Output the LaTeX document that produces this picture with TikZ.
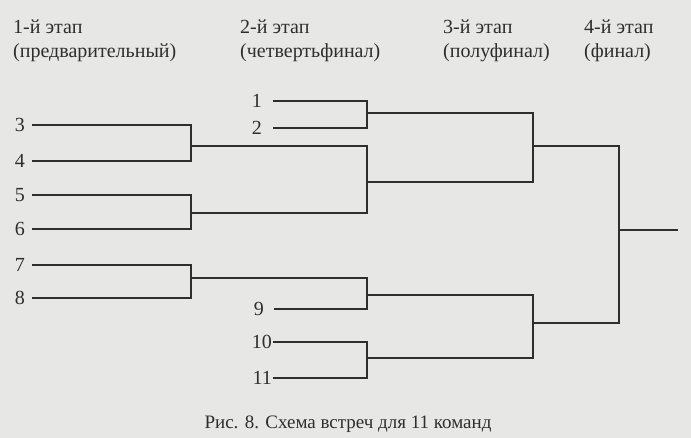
\documentclass[tikz,border=0pt]{standalone}
\usepackage{fontspec}
\setmainfont{Liberation Serif}
\definecolor{paper}{HTML}{E7E7E5}
\definecolor{ink}{HTML}{2E2E2E}
\tikzset{
  team/.style={anchor=east,inner xsep=7pt,inner ysep=0pt,font=\fontsize{20}{24}\selectfont,text=ink},
  stage/.style={anchor=base west,align=left,inner sep=0pt,font=\fontsize{20}{24}\selectfont,text=ink},
  link/.style={draw=ink,line width=1.1pt}
}
\begin{document}
\begin{tikzpicture}[x=1pt,y=-1pt]
    \fill[paper](0,0) rectangle (691,438);
    \useasboundingbox (0,0) rectangle (691,438);
    % stages
    \node[stage] (st1) at (13,58) {1-й этап\\(предварительный)};
    \node[stage] (st2) at (240,58) {2-й этап\\(четвертьфинал)};
    \node[stage] (st3) at (443,58) {3-й этап\\(полуфинал)};
    \node[stage] (st4) at (584,58) {4-й этап\\(финал)};
    % teams
    \node[team] (t3) at (32,125) {3};
    \node[team] (t4) at (32,161) {4};
    \node[team] (t5) at (32,195) {5};
    \node[team] (t6) at (32,229) {6};
    \node[team] (t7) at (32,265) {7};
    \node[team] (t8) at (32,298) {8};
    \node[team,inner xsep=11pt] (t1) at (273,101) {1};
    \node[team,inner xsep=11pt] (t2) at (273,128) {2};
    \node[team,inner xsep=10pt] (t9) at (274,309) {9};
    \node[team,inner xsep=1pt] (t10) at (273,342) {10};
    \node[team,inner xsep=1pt] (t11) at (273,378) {11};
    % winners
    \coordinate (w34) at (191,146);
    \coordinate (w56) at (191,213);
    \coordinate (w78) at (191,278);
    \coordinate (q12) at (367,113);
    \coordinate (q36) at (367,182);
    \coordinate (q79) at (367,295);
    \coordinate (q1011) at (367,358);
    \coordinate (s1) at (533,146);
    \coordinate (s2) at (533,323);
    \coordinate (f) at (619,230);
    \coordinate (champ) at (678,230);
    % 1st stage
    \draw[link](t3.east) -| (w34) |- (t4.east);
    \draw[link](t5.east) -| (w56) |- (t6.east);
    \draw[link](t7.east) -| (w78) |- (t8.east);
    % 2nd stage
    \draw[link](t1.east) -| (q12) |- (t2.east);
    \draw[link](w34) -| (q36) |- (w56);
    \draw[link](w78) -| (q79) |- (t9.east);
    \draw[link](t10.east) -| (q1011) |- (t11.east);
    % 3rd and 4th stage
    \draw[link](q12) -| (s1) |- (q36);
    \draw[link](q79) -| (s2) |- (q1011);
    \draw[link](s1) -| (f) |- (s2);
    \draw[link](f) -- (champ);
    \node[anchor=base,font=\fontsize{19}{22}\selectfont,text=ink] (cap) at (348,428) {Рис. 8. Схема встреч для 11 команд};
\end{tikzpicture}
\end{document}
